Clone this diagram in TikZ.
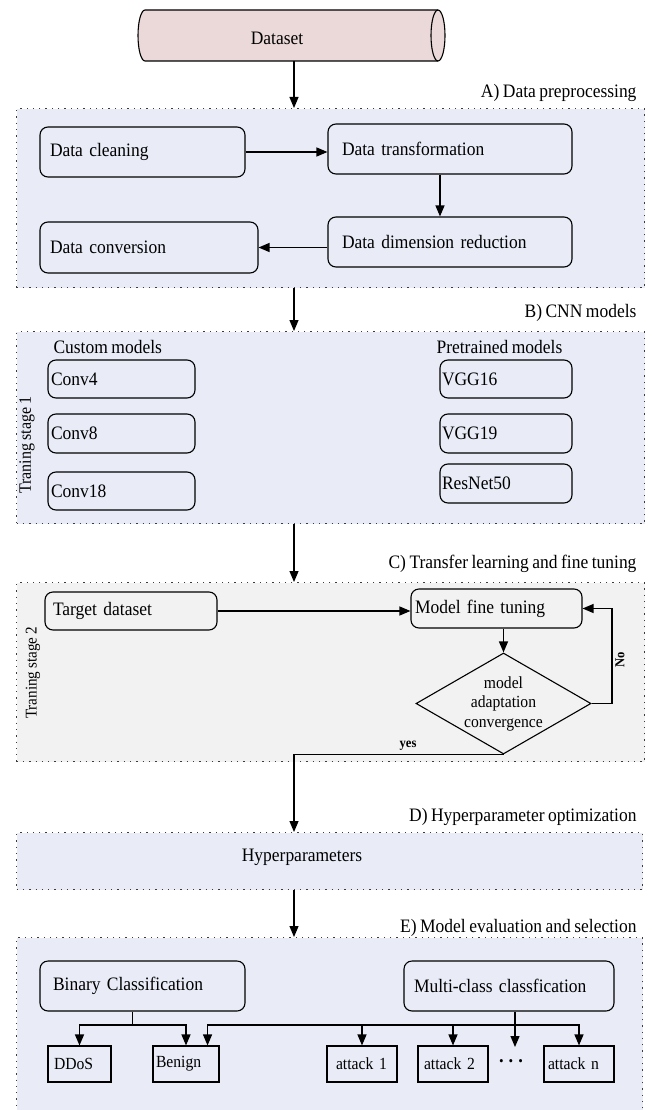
\documentclass[tikz,border=0pt]{standalone}
\usepackage{fontspec}
\setmainfont{Liberation Serif}[FakeStretch=0.92, WordSpace=0.8]
\usetikzlibrary{shapes.geometric,arrows.meta}
\definecolor{boxblue}{RGB}{233,236,247}
\definecolor{boxgray}{RGB}{242,242,242}
\definecolor{dspink}{RGB}{234,217,216}
\definecolor{dotc}{RGB}{60,60,60}
\tikzset{
  every node/.style={font=\fontsize{19}{22}\selectfont},
  cont/.style={draw=dotc, line width=1.3pt, dash pattern=on 1.3pt off 5pt, fill=boxblue, anchor=north west, inner sep=0pt},
  rbox/.style={draw, line width=1.1pt, rounded corners=8pt, align=left, inner ysep=0pt},
  leaf/.style={draw, line width=1.1pt, align=left, inner ysep=0pt, minimum height=36pt, font=\fontsize{17}{20}\selectfont},
  arr/.style={line width=1.2pt, -{Triangle[length=11pt,width=9pt]}},
  conn/.style={line width=1.2pt},
  lbl/.style={anchor=east},
  side/.style={rotate=90, font=\fontsize{17.4}{20}\selectfont},
  small/.style={font=\bfseries\fontsize{13.7}{16}\selectfont}
}
\begin{document}
\begin{tikzpicture}[x=1pt,y=-1pt]
\useasboundingbox (0,0) rectangle (651,1110);
\clip (0,0) rectangle (651,1110);
\coordinate (spine) at (294,0);

% Dataset cylinder
\draw[line width=1.1pt, fill=dspink] (145,10) -- (438,10)
  arc[start angle=-90, end angle=90, x radius=7, y radius=25.5]
  -- (145,61)
  arc[start angle=90, end angle=270, x radius=7, y radius=25.5] -- cycle;
\draw[line width=1.1pt] (438,10) arc[start angle=-90, end angle=-270, x radius=7, y radius=25.5];
\node (ds) at (277,38) {Dataset};
\coordinate (dsbot) at (294,61);

% containers
\node[cont, minimum width=628pt, minimum height=179pt] (boxA) at (16,108) {};
\node[cont, minimum width=628pt, minimum height=192pt] (boxB) at (16,331) {};
\node[cont, fill=boxgray, minimum width=628pt, minimum height=179pt] (boxC) at (16,582) {};
\node[cont, minimum width=626pt, minimum height=57pt] (boxD) at (16,832) {};
\node[cont, minimum width=626pt, minimum height=200pt] (boxE) at (16,937) {};

% section labels
\node[lbl] (labA) at (640,93) {A) Data preprocessing};
\node[lbl] (labB) at (640,313) {B) CNN models};
\node[lbl] (labC) at (640,564) {C) Transfer learning and fine tuning};
\node[lbl] (labD) at (640,817) {D) Hyperparameter optimization};
\node[lbl] (labE) at (640,928) {E) Model evaluation and selection};

% A) preprocessing
\node[rbox, text width=185pt, inner xsep=10pt, minimum width=205pt, minimum height=50pt] (clean) at (142.5,152) {Data cleaning};
\node[rbox, text width=216pt, inner xsep=14pt, minimum width=244pt, minimum height=50pt] (trans) at (450,149) {Data transformation};
\node[rbox, text width=216pt, inner xsep=14pt, minimum width=244pt, minimum height=50pt] (red) at (450,242) {Data dimension reduction};
\node[rbox, text width=198pt, inner xsep=10pt, minimum width=218pt, minimum height=51pt] (conv) at (149,247.5) {Data conversion};
\draw[arr] (clean.east) -- (trans.west |- clean.east);
\draw[arr] ([xshift=-10pt]trans.south) -- ([xshift=-10pt]red.north);
\draw[arr] (conv.east -| red.west) -- (conv.east);

% B) CNN models
\node[anchor=west] (cust) at (50,347) {Custom models};
\node[anchor=west] (pre) at (433,347) {Pretrained models};
\node[rbox, text width=141pt, inner xsep=3pt, minimum width=147pt, minimum height=38pt] (c4) at (121.5,379) {Conv4};
\node[rbox, text width=141pt, inner xsep=3pt, minimum width=147pt, minimum height=39pt] (c8) at (121.5,433.5) {Conv8};
\node[rbox, text width=141pt, inner xsep=3pt, minimum width=147pt, minimum height=38pt] (c18) at (121.5,491) {Conv18};
\node[rbox, text width=128pt, inner xsep=2pt, minimum width=132pt, minimum height=38pt] (v16) at (506,379) {VGG16};
\node[rbox, text width=128pt, inner xsep=2pt, minimum width=132pt, minimum height=39pt] (v19) at (506,433.5) {VGG19};
\node[rbox, text width=128pt, inner xsep=2pt, minimum width=132pt, minimum height=39pt] (rn) at (506,483.5) {ResNet50};
\node[side] (st1) at (27,445) {Traning stage 1};

% C) transfer learning
\node[rbox, text width=156pt, inner xsep=8pt, minimum width=172pt, minimum height=38pt] (target) at (131,611) {Target dataset};
\node[rbox, text width=163pt, inner xsep=4pt, minimum width=171pt, minimum height=39pt] (fine) at (496.5,608.5) {Model fine tuning};
\node[draw, diamond, aspect=1.74, inner sep=0pt, minimum width=175pt, minimum height=101pt, align=center, line width=1.1pt, font=\fontsize{17}{19.5}\selectfont] (dia) at (503.5,703.5) {model\\adaptation\\convergence};
\node[side, font=\fontsize{16.4}{19}\selectfont] (st2) at (33,673) {Traning stage 2};
\coordinate (nox) at (612,0);
\draw[arr] (target.east) -- (target.east -| fine.west);
\draw[arr] (dia.north |- fine.south) -- (dia.north);
\draw[arr] (dia.east) -- (dia.east -| nox) |- (fine.east);
\node[small, rotate=90] (nolab) at (620,660) {No};
\draw[arr] (dia.south) -- (dia.south -| spine) -- (boxD.north -| spine);
\node[small] (yeslab) at (408,746) {yes};

% D) hyperparameters
\node (hyp) at (302,857) {Hyperparameters};

% stage arrows
\draw[arr] (dsbot) -- (boxA.north -| spine);
\draw[arr] (boxA.south -| spine) -- (boxB.north -| spine);
\draw[arr] (boxB.south -| spine) -- (boxC.north -| spine);
\draw[arr] (boxD.south -| spine) -- (boxE.north -| spine);

% E) evaluation
\node[rbox, text width=179pt, inner xsep=13pt, minimum width=205pt, minimum height=50pt] (bin) at (142.5,986) {Binary Classification};
\node[rbox, text width=190pt, inner xsep=10pt, minimum width=210pt, minimum height=50pt] (multi) at (509,986) {Multi-class classfication};
\node[leaf, text width=51pt, inner xsep=6pt, minimum width=63pt] (ddos) at (79.5,1064) {DDoS};
\node[leaf, text width=60pt, inner xsep=3pt, minimum width=66pt] (benign) at (186,1064) {Benign};
\node[leaf, text width=52pt, inner xsep=9pt, minimum width=70pt] (att1) at (362,1064) {attack 1};
\node[leaf, text width=58pt, inner xsep=6pt, minimum width=70pt] (att2) at (453,1064) {attack 2};
\node[leaf, text width=62pt, inner xsep=4pt, minimum width=70pt] (attn) at (579,1064) {attack n};
\node[inner sep=0pt, anchor=base, font=\bfseries\fontsize{20}{22}\selectfont] (dots) at (511,1062) {.\hspace{5pt}.\hspace{5pt}.};

\coordinate (bj) at (132.5,1025);
\coordinate (mj) at (515,1025);
\coordinate (mtip) at (515,1047);
\draw[conn] (bin.south -| bj) -- (bj);
\draw[arr] (bj) -| (ddos.north);
\draw[arr] (bj) -| (benign.north);
\draw[arr] (multi.south -| mj) -- (mtip);
\draw[arr] (mj) -| ([xshift=-12pt]benign.north east);
\draw[arr] (mj) -| (attn.north);
\draw[arr] (mj -| att1.north) -- (att1.north);
\draw[arr] (mj -| att2.north) -- (att2.north);
\end{tikzpicture}
\end{document}
